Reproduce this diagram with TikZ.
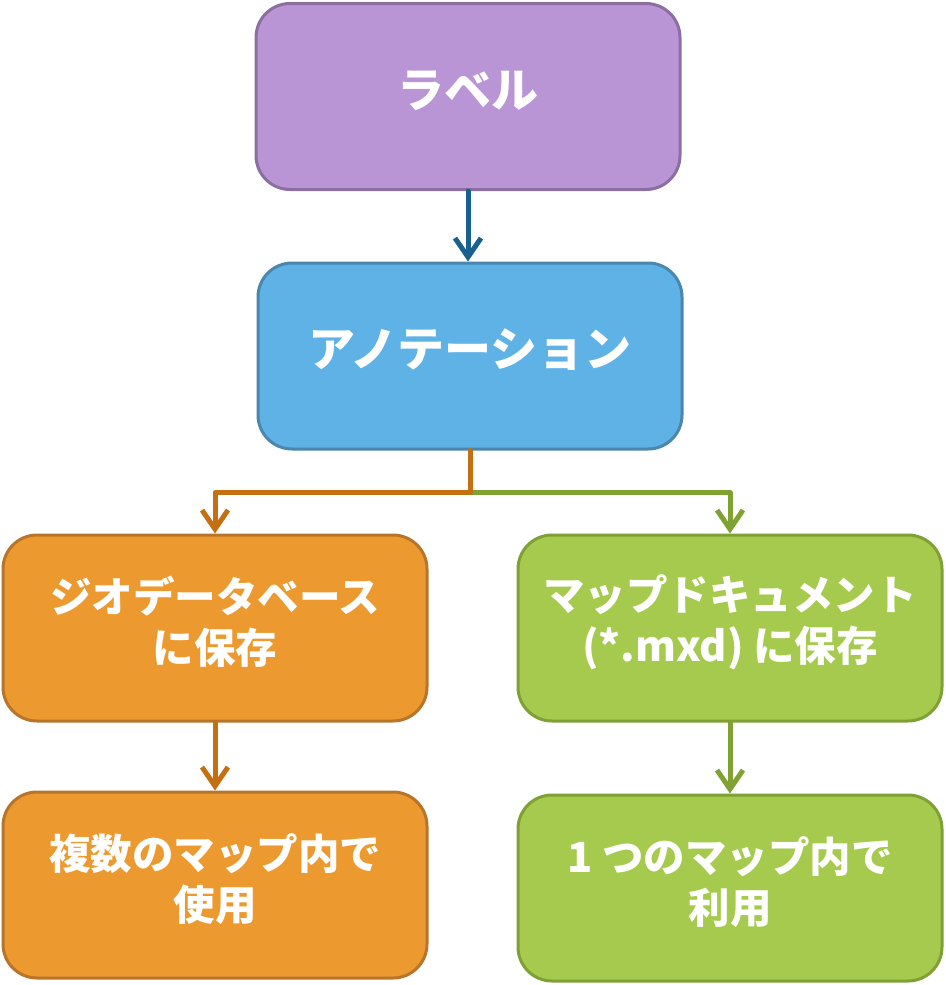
\documentclass[tikz,border=0pt]{standalone}
\usepackage{fontspec}
\newfontfamily\jp{Noto Sans CJK JP}
\usetikzlibrary{arrows.meta}
\definecolor{pfill}{HTML}{B995D6}
\definecolor{pline}{HTML}{8A6FA0}
\definecolor{bfill}{HTML}{5EB2E6}
\definecolor{bline}{HTML}{4A86AD}
\definecolor{ofill}{HTML}{EC9A30}
\definecolor{oline}{HTML}{B8742A}
\definecolor{gfill}{HTML}{A5CA4D}
\definecolor{gline}{HTML}{7FA034}
\definecolor{barrow}{HTML}{17608F}
\definecolor{oarrow}{HTML}{C46F12}
\definecolor{garrow}{HTML}{7FA232}
\tikzset{
  box/.style={draw, line width=3pt, rounded corners=34pt, minimum width=424pt, minimum height=186pt, inner sep=0pt},
  bigtxt/.style={text=white, font=\jp\bfseries\fontsize{47}{52}\selectfont, align=center, inner sep=0pt},
  txt/.style={text=white, font=\jp\bfseries\fontsize{41.5}{51}\selectfont, align=center, inner sep=0pt},
  conn/.style={line width=5pt, line cap=round, line join=round, -{Straight Barb[length=19pt,width=26pt,line width=5pt]}}
}
\begin{document}
\begin{tikzpicture}[x=1pt,y=-1pt]
\useasboundingbox (0,0) rectangle (945,985);
\node[box, fill=pfill, draw=pline] (label) at (468,96.5) {};
\node[box, fill=bfill, draw=bline] (anno) at (470,356) {};
\node[box, fill=ofill, draw=oline] (geo) at (215,628) {};
\node[box, fill=gfill, draw=gline] (mxd) at (730,628) {};
\node[box, fill=ofill, draw=oline] (multi) at (215,885) {};
\node[box, fill=gfill, draw=gline] (one) at (730,888) {};

\node[bigtxt] (tlabel) at ([yshift=6pt]label.center) {ラベル};
\node[bigtxt] (tanno) at ([yshift=6pt]anno.center) {アノテーション};
\node[txt] (tgeo) at ([yshift=6pt]geo.center) {ジオデータベース\\に保存};
\node[txt] (tmxd) at ([yshift=6pt]mxd.center) {マップドキュメント\\(*.mxd) に保存};
\node[txt] (tmulti) at ([yshift=6pt]multi.center) {複数のマップ内で\\使用};
\node[txt] (tone) at ([yshift=6pt]one.center) {1 つのマップ内で\\利用};

\coordinate (split) at ([yshift=-42pt]anno.south);
\draw[conn, draw=barrow] (label.south) -- (label.south |- anno.north);
\draw[conn, draw=garrow] (split) -| (mxd.north);
\draw[conn, draw=oarrow] (anno.south) -- (split) -| (geo.north);
\draw[conn, draw=oarrow] (geo.south) -- (multi.north);
\draw[conn, draw=garrow] (mxd.south) -- (one.north);
\end{tikzpicture}
\end{document}
